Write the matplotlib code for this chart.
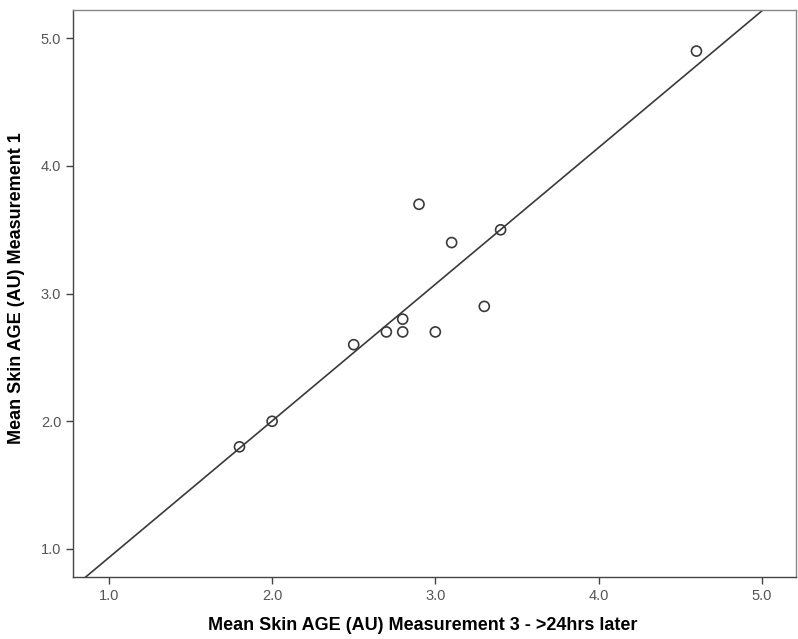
import numpy as np
import matplotlib
matplotlib.use("Agg")
import matplotlib.pyplot as plt

plt.rcParams['font.family'] = ['Liberation Sans', 'DejaVu Sans']

# Mean skin AGE (AU): measurement 3 (>24hrs later) vs measurement 1
meas3 = [1.8, 2.0, 2.5, 2.7, 2.8, 2.8, 2.9, 3.0, 3.1, 3.3, 3.4, 4.6]
meas1 = [1.8, 2.0, 2.6, 2.7, 2.7, 2.8, 3.7, 2.7, 3.4, 2.9, 3.5, 4.9]
ticks = [1.0, 2.0, 3.0, 4.0, 5.0]

fig = plt.figure(figsize=(7.98, 6.39), dpi=100)
ax = fig.add_axes([0.0915, 0.097, 0.906, 0.887])

xlim = (0.78, 5.21)
ylim = (0.78, 5.22)

# least squares fit line across the whole plot
slope, icpt = np.polyfit(meas3, meas1, 1)
xs = np.array(xlim)
ax.plot(xs, slope * xs + icpt, color='#3a3a3a', lw=1.2, zorder=2)

ax.scatter(meas3, meas1, s=52, facecolors='none', edgecolors='#3a3a3a',
           linewidths=1.2, zorder=3)

ax.set_xlim(xlim)
ax.set_ylim(ylim)
ax.set_xticks(ticks)
ax.set_yticks(ticks)
ax.set_xticklabels(['%.1f' % t for t in ticks])
ax.set_yticklabels(['%.1f' % t for t in ticks])
ax.tick_params(direction='out', length=5, width=1, color='#444444',
               labelcolor='#555555', labelsize=10.5)

for s in ax.spines.values():
    s.set_color('#444444')
    s.set_linewidth(1)
ax.spines['top'].set_color('#888888')
ax.spines['right'].set_color('#888888')

ax.set_xlabel('Mean Skin AGE (AU) Measurement 3 - >24hrs later',
              fontsize=13, fontweight='bold')
ax.set_ylabel('Mean Skin AGE (AU) Measurement 1',
              fontsize=13, fontweight='bold')
ax.xaxis.set_label_coords(0.483, -0.07)
ax.yaxis.set_label_coords(-0.066, 0.51)

fig.savefig('out.png', dpi=100)
